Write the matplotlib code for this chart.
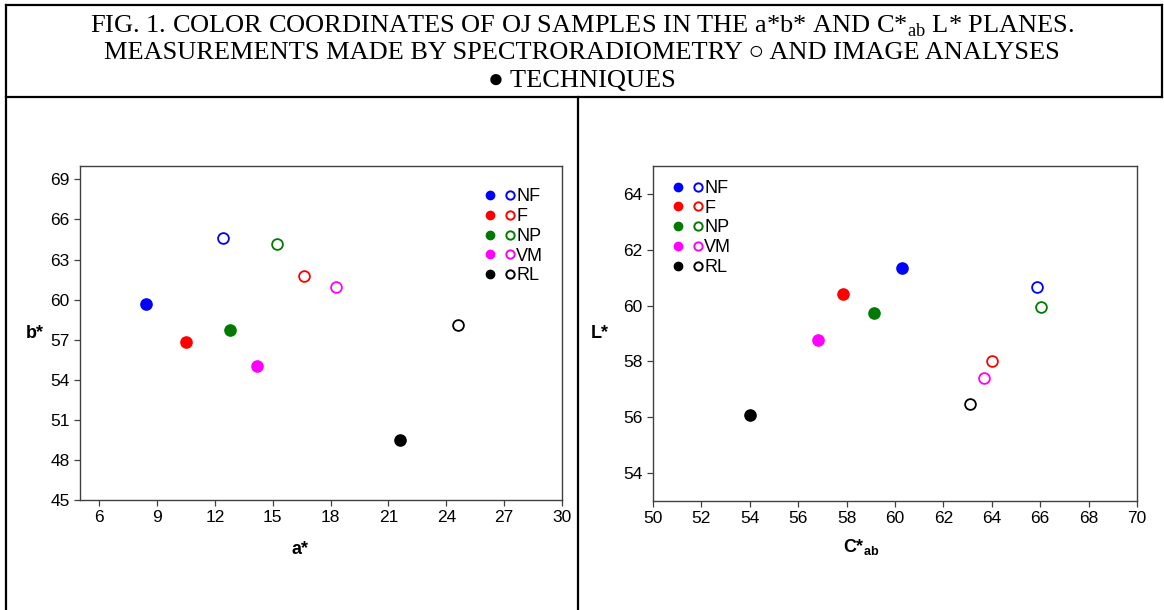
import matplotlib.pyplot as plt
from matplotlib.lines import Line2D
from matplotlib.legend_handler import HandlerTuple

plt.rcParams['font.family'] = ['Liberation Sans', 'DejaVu Sans']

# Samples and their colours
samples = ['NF', 'F', 'NP', 'VM', 'RL']
colors = ['#0000ff', '#ff0000', '#007a00', '#ff00ff', '#000000']

# a*b* plane: image analysis (filled) and spectroradiometry (open)
a_img = [8.4, 10.5, 12.8, 14.2, 21.6]
b_img = [59.7, 56.85, 57.7, 55.0, 49.5]
a_spec = [12.4, 16.6, 15.2, 18.3, 24.6]
b_spec = [64.6, 61.75, 64.2, 60.95, 58.1]

# C*ab L* plane
c_img = [60.3, 57.85, 59.15, 56.8, 54.0]
l_img = [61.33, 60.42, 59.75, 58.75, 56.08]
c_spec = [65.85, 64.0, 66.02, 63.67, 63.1]
l_spec = [60.65, 58.0, 59.96, 57.4, 56.48]

ab_xticks = [6, 9, 12, 15, 18, 21, 24, 27, 30]
ab_yticks = [45, 48, 51, 54, 57, 60, 63, 66, 69]
cl_xticks = [50, 52, 54, 56, 58, 60, 62, 64, 66, 68, 70]
cl_yticks = [54, 56, 58, 60, 62, 64]

fig = plt.figure(figsize=(11.64, 6.10), dpi=100)

ax1 = fig.add_axes([80 / 1164, 0.1803, 482 / 1164, 0.5475])
ax2 = fig.add_axes([653 / 1164, 0.1787, 484 / 1164, 0.5492])


def draw_panel(ax, xf, yf, xo, yo):
    handles = []
    for i in range(len(samples)):
        ax.scatter(xf[i], yf[i], s=65, color=colors[i], zorder=3)
        ax.scatter(xo[i], yo[i], s=60, facecolor='white', edgecolor=colors[i],
                   linewidth=1.3, zorder=3)
        h_f = Line2D([], [], ls='', marker='o', ms=6, color=colors[i])
        h_o = Line2D([], [], ls='', marker='o', ms=6, mfc='white',
                     mec=colors[i], mew=1.4)
        handles.append((h_f, h_o))
    for s in ax.spines.values():
        s.set_color('#404040')
        s.set_linewidth(1.0)
    ax.tick_params(direction='out', length=4, width=0.9, labelsize=12.5,
                   color='#404040')
    return handles


h1 = draw_panel(ax1, a_img, b_img, a_spec, b_spec)
ax1.set_xlim(5, 30)
ax1.set_ylim(45, 70)
ax1.set_xticks(ab_xticks)
ax1.set_yticks(ab_yticks)
ax1.set_xlabel('a*', fontsize=13, fontweight='bold')
ax1.set_ylabel('b*', fontsize=13, fontweight='bold', rotation=0, va='center')
ax1.xaxis.set_label_coords(0.456, -0.123)
ax1.yaxis.set_label_coords(-0.093, 0.5)
ax1.legend(h1, samples, handler_map={tuple: HandlerTuple(ndivide=None, pad=0.6)},
           loc='upper left', bbox_to_anchor=(0.823, 0.96), frameon=False,
           fontsize=13, handlelength=1.6, handletextpad=0.1,
           labelspacing=0.15, borderpad=0)

h2 = draw_panel(ax2, c_img, l_img, c_spec, l_spec)
ax2.set_xlim(50, 70)
ax2.set_ylim(53, 65)
ax2.set_xticks(cl_xticks)
ax2.set_yticks(cl_yticks)
ax2.set_xlabel('C*$_{\\mathregular{ab}}$', fontsize=13, fontweight='bold')
ax2.set_ylabel('L*', fontsize=13, fontweight='bold', rotation=0, va='center')
ax2.xaxis.set_label_coords(0.43, -0.107)
ax2.yaxis.set_label_coords(-0.11, 0.5)
ax2.legend(h2, samples, handler_map={tuple: HandlerTuple(ndivide=None, pad=0.6)},
           loc='upper left', bbox_to_anchor=(0.0235, 0.985), frameon=False,
           fontsize=13, handlelength=1.6, handletextpad=0.1,
           labelspacing=0.15, borderpad=0)

# Title box
serif = ['Liberation Serif', 'DejaVu Sans']
fig.text(0.5, 1 - 26 / 610,
         'FIG. 1. COLOR COORDINATES OF OJ SAMPLES IN THE a*b* AND '
         'C*$_{\\mathregular{ab}}$ L* PLANES.',
         family='Liberation Serif', fontsize=19, ha='center', va='center')
fig.text(0.5, 1 - 53 / 610,
         'MEASUREMENTS MADE BY SPECTRORADIOMETRY \u25cb AND IMAGE ANALYSES',
         family=serif, fontsize=19, ha='center', va='center')
fig.text(0.5, 1 - 81 / 610, '\u25cf TECHNIQUES',
         family=serif, fontsize=19, ha='center', va='center')

# frame lines
W, H = 1164, 610
def fig_line(x0, y0, x1, y1):
    fig.add_artist(Line2D([x0 / W, x1 / W], [1 - y0 / H, 1 - y1 / H],
                          color='black', lw=1.6))

fig_line(5.5, 5, 1162, 5)
fig_line(5.5, 5, 5.5, 610)
fig_line(1162, 5, 1162, 97)
fig_line(5.5, 97, 1162, 97)
fig_line(578, 97, 578, 610)

fig.savefig('out.png', dpi=100)
